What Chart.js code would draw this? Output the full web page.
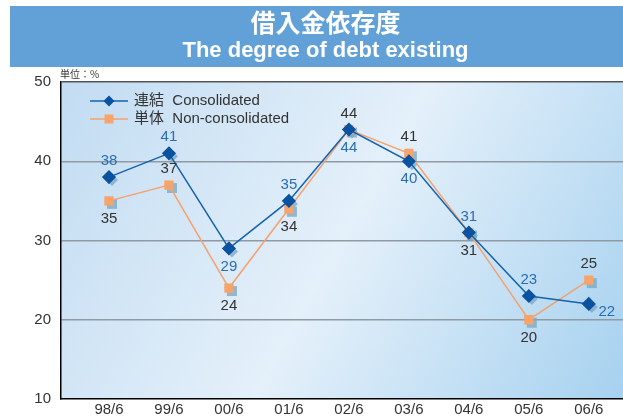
<!DOCTYPE html>
<html>
<head>
<meta charset="utf-8">
<script src="https://cdn.jsdelivr.net/npm/chart.js@4"></script>
<style>
	body { margin: 0; background: #fff; }
	#wrap { position: relative; width: 623px; height: 418px; }
	#chart { position: absolute; left: 0; top: 0; }
	#banner {
		position: absolute; left: 10px; top: 6px; width: 613px; height: 61px;
		background: #62a0d8; color: #fff; text-align: center;
	}
	#banner .jp { font-family: "Noto Sans CJK JP", sans-serif; font-weight: bold; font-size: 25px; line-height: 31px; padding-left: 18px; }
	#banner .en { font-family: "Liberation Sans", Arial, sans-serif; font-weight: bold; font-size: 22px; line-height: 26px; padding-left: 18px; }
</style>
</head>
<body>
<div id="wrap">
	<canvas id="chart" width="623" height="418"></canvas>
	<div id="banner">
		<div class="jp">借入金依存度</div>
		<div class="en">The degree of debt existing</div>
	</div>
</div>
<script>
// categories and values
const periods = ['98/6', '99/6', '00/6', '01/6', '02/6', '03/6', '04/6', '05/6', '06/6'];
const consolidated = [38, 41, 29, 35, 44, 40, 31, 23, 22];
const nonConsolidated = [35, 37, 24, 34, 44, 41, 31, 20, 25];
const yTicks = [10, 20, 30, 40, 50];

// where each value label sits relative to its point
const consPlace = ['above', 'above', 'below', 'above', 'below', 'below', 'above', 'above', 'right'];
const nonPlace = ['below', 'above', 'below', 'below', 'above', 'above', 'below', 'below', 'above'];

const blueLine = '#1562ae';
const bluePoint = '#0b52a0';
const orangeLine = '#f5a26e';
const orangePoint = '#f6a46a';

// gradient background of the plot area
const bgPlugin = {
	id: 'bg',
	beforeDraw(chart) {
		const { ctx, chartArea: a } = chart;
		let g = ctx.createLinearGradient(a.left, a.top, a.right, a.bottom);
		g.addColorStop(0, '#c2dcf2');
		g.addColorStop(0.5, '#e4f0fa');
		g.addColorStop(1, '#a6d1ef');
		ctx.save();
		ctx.fillStyle = g;
		ctx.fillRect(a.left, a.top, a.right - a.left, a.bottom - a.top);
		ctx.restore();
	},
};

// soft shadow under each marker
const shadowPlugin = {
	id: 'shadow',
	beforeDatasetsDraw(chart) {
		const ctx = chart.ctx;
		ctx.save();
		ctx.fillStyle = 'rgba(120,165,195,0.75)';
		chart.data.datasets.forEach((ds, di) => {
			chart.getDatasetMeta(di).data.forEach((pt) => {
				let x = pt.x + 3, y = pt.y + 3;
				ctx.beginPath();
				if (di === 0) {
					ctx.moveTo(x, y - 6); ctx.lineTo(x + 6, y); ctx.lineTo(x, y + 6); ctx.lineTo(x - 6, y);
				} else {
					ctx.rect(x - 5, y - 5, 10, 10);
				}
				ctx.fill();
			});
		});
		ctx.restore();
	},
};

// value labels, legend and unit note
const labelPlugin = {
	id: 'labels',
	afterDatasetsDraw(chart) {
		const ctx = chart.ctx;
		ctx.save();
		ctx.font = '15px "Liberation Sans", Arial, sans-serif';
		ctx.textAlign = 'center';
		ctx.textBaseline = 'middle';
		const sets = [
			{ vals: consolidated, place: consPlace, color: '#2a6db5' },
			{ vals: nonConsolidated, place: nonPlace, color: '#333333' },
		];
		sets.forEach((s, di) => {
			let meta = chart.getDatasetMeta(di);
			s.vals.forEach((v, i) => {
				let pt = meta.data[i];
				let x = pt.x, y = pt.y;
				if (s.place[i] === 'above') y -= 16;
				else if (s.place[i] === 'below') y += 18;
				else { x += 18; y += 8; }
				ctx.fillStyle = s.color;
				ctx.fillText(String(v), x, y);
			});
		});

		// legend
		const items = [
			{ text: '連結  Consolidated', line: blueLine, point: bluePoint, diamond: true, y: 101 },
			{ text: '単体  Non-consolidated', line: orangeLine, point: orangePoint, diamond: false, y: 119 },
		];
		items.forEach((it) => {
			ctx.strokeStyle = it.line;
			ctx.lineWidth = 1.5;
			ctx.beginPath();
			ctx.moveTo(90, it.y);
			ctx.lineTo(128, it.y);
			ctx.stroke();
			ctx.fillStyle = it.point;
			ctx.beginPath();
			if (it.diamond) {
				ctx.moveTo(109, it.y - 5.5); ctx.lineTo(114.5, it.y); ctx.lineTo(109, it.y + 5.5); ctx.lineTo(103.5, it.y);
			} else {
				ctx.rect(104.5, it.y - 4.5, 9, 9);
			}
			ctx.fill();
			ctx.fillStyle = '#333';
			ctx.textAlign = 'left';
			ctx.font = '15px "Liberation Sans", "Noto Sans CJK JP", sans-serif';
			ctx.fillText(it.text, 134, it.y);
		});

		ctx.font = '10px "Noto Sans CJK JP", sans-serif';
		ctx.fillStyle = '#333';
		ctx.textAlign = 'left';
		ctx.fillText('単位：%', 60, 74);
		ctx.restore();
	},
};

new Chart(document.getElementById('chart').getContext('2d'), {
	type: 'line',
	data: {
		datasets: [
			{
				label: '連結 Consolidated',
				data: consolidated.map((v, i) => ({ x: i, y: v })),
				borderColor: blueLine,
				borderWidth: 1.5,
				backgroundColor: bluePoint,
				pointBackgroundColor: bluePoint,
				pointBorderColor: bluePoint,
				pointStyle: 'rectRot',
				pointRadius: 6,
				tension: 0,
			},
			{
				label: '単体 Non-consolidated',
				data: nonConsolidated.map((v, i) => ({ x: i, y: v })),
				borderColor: orangeLine,
				borderWidth: 1.5,
				backgroundColor: orangePoint,
				pointBackgroundColor: orangePoint,
				pointBorderColor: orangePoint,
				pointStyle: 'rect',
				pointRadius: 5.5,
				tension: 0,
			},
		],
	},
	options: {
		responsive: false,
		animation: false,
		layout: { autoPadding: false, padding: { top: 82, left: 0, right: 0, bottom: 0 } },
		plugins: { legend: { display: false }, tooltip: { enabled: false } },
		scales: {
			x: {
				type: 'linear',
				min: -0.8,
				max: 8.57,
				afterBuildTicks: (scale) => {
					scale.ticks = periods.map((p, i) => ({ value: i }));
				},
				afterFit: (scale) => {
					scale.height = 18;
					scale.paddingLeft = 0;
					scale.paddingRight = 0;
				},
				grid: { display: false, drawTicks: false },
				border: { color: '#000', width: 1.5 },
				ticks: {
					padding: 2,
					color: '#333',
					font: { size: 15, family: '"Liberation Sans", Arial, sans-serif' },
					callback: (v) => periods[v],
				},
			},
			y: {
				min: 10,
				max: 50,
				afterBuildTicks: (scale) => {
					scale.ticks = yTicks.map((v) => ({ value: v }));
				},
				afterFit: (scale) => { scale.width = 61; },
				grid: {
					drawTicks: false,
					lineWidth: 1.5,
					color: (c) => (c.tick.value === 50 ? '#555' : c.tick.value === 10 ? 'rgba(0,0,0,0)' : '#8f9aa4'),
				},
				border: { color: '#000', width: 1.5 },
				ticks: {
					padding: 10,
					color: '#333',
					font: { size: 15, family: '"Liberation Sans", Arial, sans-serif' },
				},
			},
		},
	},
	plugins: [bgPlugin, shadowPlugin, labelPlugin],
});
</script>
</body>
</html>
